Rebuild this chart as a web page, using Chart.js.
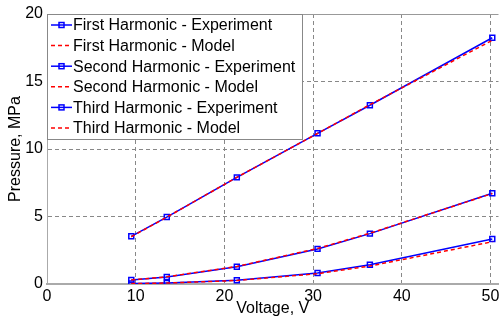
<!DOCTYPE html>
<html>
<head>
<meta charset="utf-8">
<script src="https://cdn.jsdelivr.net/npm/chart.js@4"></script>
<style>
  html, body { margin: 0; padding: 0; background: #fff; }
  #wrap { width: 504px; height: 322px; }
</style>
</head>
<body>
<div id="wrap"><canvas id="chart"></canvas></div>
<script>
// voltages, V
const voltage = [9.5, 13.5, 21.4, 30.5, 36.4, 50.2];

// pressures, MPa
const firstExp = [3.53, 4.96, 7.9, 11.16, 13.24, 18.24];
const firstModel = [3.5, 4.95, 7.9, 11.15, 13.28, 18.05];
const secondExp = [0.3, 0.52, 1.28, 2.6, 3.73, 6.72];
const secondModel = [0.3, 0.53, 1.3, 2.63, 3.76, 6.7];
const thirdExp = [0.03, 0.08, 0.28, 0.81, 1.43, 3.33];
const thirdModel = [0.03, 0.07, 0.26, 0.76, 1.33, 3.13];

const xTicks = [0, 10, 20, 30, 40, 50];
const yTicks = [0, 5, 10, 15, 20];

const seriesNames = [
  'First Harmonic - Experiment',
  'First Harmonic - Model',
  'Second Harmonic - Experiment',
  'Second Harmonic - Model',
  'Third Harmonic - Experiment',
  'Third Harmonic - Model'
];
const seriesValues = [firstExp, firstModel, secondExp, secondModel, thirdExp, thirdModel];

const FONT = '"Liberation Sans", Arial, sans-serif';

function makeDataset(i) {
  const isModel = i % 2 === 1;
  return {
    label: seriesNames[i],
    data: voltage.map((v, k) => ({ x: v, y: seriesValues[i][k] })),
    borderColor: isModel ? '#ff0000' : '#0000ff',
    backgroundColor: 'rgba(0,0,0,0)',
    borderWidth: 1.5,
    borderDash: isModel ? [4, 3] : [],
    pointStyle: 'rect',
    pointRadius: isModel ? 0 : 3.5,
    pointBorderWidth: 1.5,
    pointBorderColor: '#0000ff',
    pointBackgroundColor: 'rgba(0,0,0,0)',
    tension: 0,
    order: isModel ? 1 : 2
  };
}

// legend box drawn in the top-left corner of the plot
const boxLegend = {
  id: 'boxLegend',
  afterDraw(chart) {
    const ctx = chart.ctx;
    const area = chart.chartArea;
    const left = area.left, top = area.top;
    const w = 255, h = 125, rowH = 20.6;
    ctx.save();
    ctx.fillStyle = '#fff';
    ctx.fillRect(left, top, w, h);
    ctx.strokeStyle = '#888';
    ctx.lineWidth = 1;
    ctx.strokeRect(left + 0.5, top + 0.5, w, h);
    ctx.font = '16px ' + FONT;
    ctx.textBaseline = 'middle';
    chart.data.datasets.forEach((ds, i) => {
      const y = top + 11 + i * rowH;
      ctx.strokeStyle = ds.borderColor;
      ctx.lineWidth = 1.5;
      ctx.setLineDash(ds.borderDash);
      ctx.beginPath();
      ctx.moveTo(left + 4, y);
      ctx.lineTo(left + 25, y);
      ctx.stroke();
      ctx.setLineDash([]);
      if (ds.pointRadius > 0) {
        ctx.strokeStyle = '#0000ff';
        ctx.strokeRect(left + 12, y - 2.5, 5, 5);
      }
      ctx.fillStyle = '#000';
      ctx.fillText(ds.label, left + 26, y + 1);
    });
    ctx.restore();
  }
};

// top border of the plot box
const topBorder = {
  id: 'topBorder',
  beforeDatasetsDraw(chart) {
    const ctx = chart.ctx, a = chart.chartArea;
    ctx.save();
    ctx.strokeStyle = '#999';
    ctx.lineWidth = 1;
    ctx.beginPath();
    ctx.moveTo(a.left, a.top + 0.5);
    ctx.lineTo(a.right, a.top + 0.5);
    ctx.stroke();
    ctx.restore();
  }
};

new Chart(document.getElementById('chart'), {
  type: 'line',
  data: { datasets: seriesValues.map((v, i) => makeDataset(i)) },
  options: {
    responsive: true,
    maintainAspectRatio: false,
    animation: false,
    layout: { padding: { top: 14, left: 6, right: 0, bottom: 0 } },
    plugins: {
      legend: { display: false },
      tooltip: { enabled: false }
    },
    scales: {
      x: {
        type: 'linear',
        min: 0,
        max: 50.9,
        afterBuildTicks: axis => { axis.ticks = xTicks.map(v => ({ value: v })); },
        afterFit: axis => { axis.height = 38; },
        grid: {
          color: '#888',
          lineWidth: ctx => (ctx.tick && ctx.tick.value === 0 ? 0 : 1),
          drawTicks: false
        },
        border: { color: '#aaa', width: 2, dash: [4, 3] },
        ticks: { color: '#000', font: { family: FONT, size: 16 }, padding: 3, maxRotation: 0 },
        title: {
          display: true,
          text: 'Voltage, V',
          color: '#000',
          font: { family: FONT, size: 16 },
          padding: { top: -4, bottom: 4 }
        }
      },
      y: {
        min: 0,
        max: 20,
        afterBuildTicks: axis => { axis.ticks = yTicks.map(v => ({ value: v })); },
        afterFit: axis => { axis.width = 41; },
        grid: {
          color: '#888',
          drawTicks: false,
          lineWidth: ctx => (ctx.tick && (ctx.tick.value === 0 || ctx.tick.value === 20) ? 0 : 1)
        },
        border: { color: '#aaa', width: 1, dash: [4, 3] },
        ticks: { color: '#000', font: { family: FONT, size: 16 }, padding: 4 },
        title: {
          display: true,
          text: 'Pressure, MPa',
          color: '#000',
          font: { family: FONT, size: 16 },
          padding: { top: 0, bottom: 0 }
        }
      }
    }
  },
  plugins: [boxLegend, topBorder]
});
</script>
</body>
</html>
